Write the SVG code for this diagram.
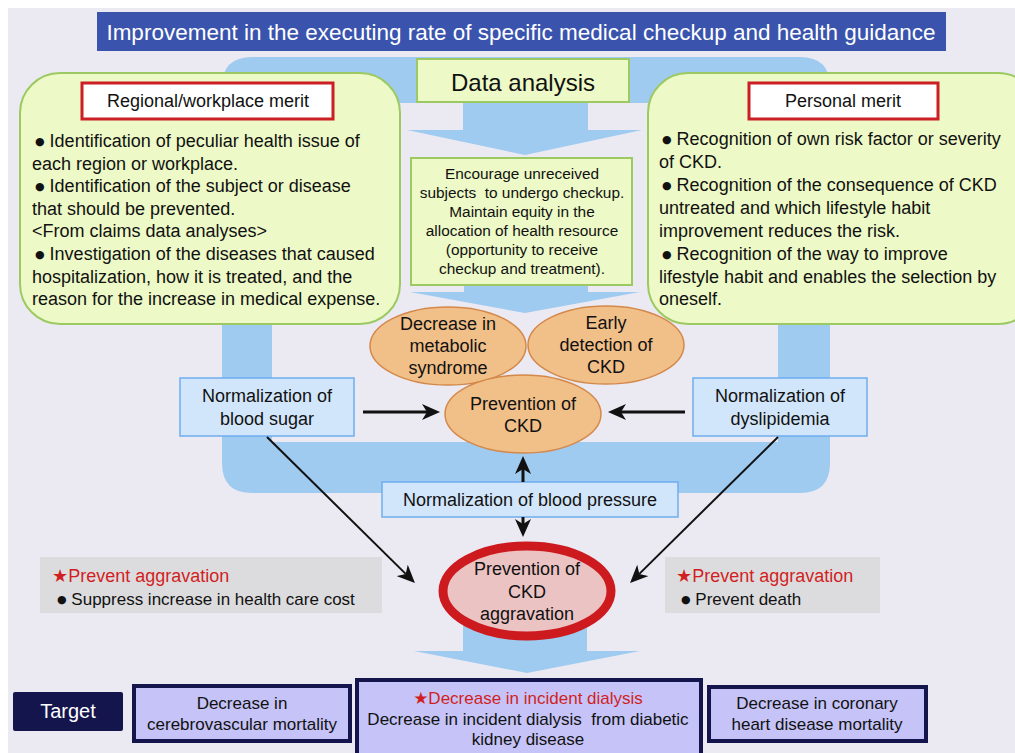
<svg xmlns="http://www.w3.org/2000/svg" width="1015" height="753" viewBox="0 0 1015 753">
  <defs>
    <style>
      text { font-family: "Liberation Sans", Arial, "DejaVu Sans", sans-serif; fill: #111; }
      .flow { fill: #9fcbf0; }
      .merit { fill: #edf9c6; stroke: #9cc962; stroke-width: 2; }
      .hdr { fill: #ffffff; stroke: #cc1f24; stroke-width: 3; }
      .oval { fill: #f1bf88; stroke: #d4884a; stroke-width: 1.5; }
      .norm { fill: #d2e6fb; stroke: #6fadee; stroke-width: 1.5; }
      .note { fill: #dcdcde; }
      .goal { fill: #c5c3f7; stroke: #15154d; stroke-width: 4; }
      .body { font-size: 18px; }
      .mid { font-size: 18px; text-anchor: middle; }
      .small { font-size: 15.4px; text-anchor: middle; }
      .red { fill: #d11f1f; }
      .dot { font-family: "DejaVu Sans", sans-serif; font-size: 11px; baseline-shift: 2px; }
      .arr { stroke: #111; fill: none; }
    </style>
    <marker id="head" markerUnits="userSpaceOnUse" markerWidth="18" markerHeight="16" refX="5" refY="8" orient="auto">
      <path d="M0,0 L18,8 L0,16 L5,8 z" fill="#111"/>
    </marker>
  </defs>

  <!-- page background -->
  <rect x="8" y="8" width="1007" height="745" fill="#ebeaf3"/>

  <!-- blue flow loop and downward arrows -->
  <g id="flow">
    <path class="flow" fill-rule="evenodd" d="M252,57 H800 Q830,57 830,87 V463 Q830,493 800,493 H252 Q222,493 222,463 V87 Q222,57 252,57 Z M272,103 V442 H778 V103 Z"/>
    <path class="flow" d="M463,100 H588 V130 H642 L525,155 L407,130 H463 Z"/>
    <path class="flow" d="M464,280 H588 V292 H640 L525,313 L410,292 H464 Z"/>
    <path class="flow" d="M463,620 H587 V651 H640 L527,673 L414,651 H463 Z"/>
  </g>

  <!-- title bar -->
  <g id="title">
    <rect x="97" y="12" width="849" height="39" fill="#3a54ae"/>
    <text x="521" y="40" font-size="22.5" text-anchor="middle" style="fill:#ffffff">Improvement in the executing rate of specific medical checkup and health guidance</text>
  </g>

  <g id="data-analysis">
    <rect class="merit" x="417" y="59" width="212" height="43"/>
    <text x="523" y="91" font-size="24" text-anchor="middle">Data analysis</text>
  </g>

  <g id="regional-merit">
    <rect class="merit" x="20" y="73" width="380" height="251" rx="40"/>
    <rect class="hdr" x="82" y="83" width="251" height="36"/>
    <text class="mid" x="208" y="107">Regional/workplace merit</text>
    <text class="body">
      <tspan x="35" y="147"><tspan class="dot">●</tspan> Identification of peculiar health issue of</tspan>
      <tspan x="32" y="169.6">each region or workplace.</tspan>
      <tspan x="35" y="192.2"><tspan class="dot">●</tspan> Identification of the subject or disease</tspan>
      <tspan x="32" y="214.8">that should be prevented.</tspan>
      <tspan x="32" y="237.4">&lt;From claims data analyses&gt;</tspan>
      <tspan x="35" y="260"><tspan class="dot">●</tspan> Investigation of the diseases that caused</tspan>
      <tspan x="32" y="282.6">hospitalization, how it is treated, and the</tspan>
      <tspan x="32" y="305.2">reason for the increase in medical expense.</tspan>
    </text>
  </g>

  <g id="personal-merit">
    <rect class="merit" x="648" y="73" width="390" height="251" rx="40"/>
    <rect class="hdr" x="749" y="83" width="189" height="36"/>
    <text class="mid" x="843" y="107">Personal merit</text>
    <text class="body">
      <tspan x="662" y="145"><tspan class="dot">●</tspan> Recognition of own risk factor or severity</tspan>
      <tspan x="659" y="168">of CKD.</tspan>
      <tspan x="662" y="191"><tspan class="dot">●</tspan> Recognition of the consequence of CKD</tspan>
      <tspan x="659" y="213.5">untreated and which lifestyle habit</tspan>
      <tspan x="659" y="236.5">improvement reduces the risk.</tspan>
      <tspan x="662" y="259.5"><tspan class="dot">●</tspan> Recognition of the way to improve</tspan>
      <tspan x="659" y="282.5">lifestyle habit and enables the selection by</tspan>
      <tspan x="659" y="305">oneself.</tspan>
    </text>
  </g>

  <g id="encourage">
    <rect class="merit" x="411" y="158" width="221" height="127"/>
    <text class="small" x="522" y="179">Encourage unreceived</text>
    <text class="small" x="522" y="198">subjects&#160; to undergo checkup.</text>
    <text class="small" x="522" y="217">Maintain equity in the</text>
    <text class="small" x="522" y="236">allocation of health resource</text>
    <text class="small" x="522" y="255">(opportunity to receive</text>
    <text class="small" x="522" y="274">checkup and treatment).</text>
  </g>

  <g id="metabolic">
    <ellipse class="oval" cx="448" cy="346" rx="78" ry="39"/>
    <text class="mid" x="448" y="330">Decrease in</text>
    <text class="mid" x="448" y="352">metabolic</text>
    <text class="mid" x="448" y="374">syndrome</text>
  </g>

  <g id="early-detection">
    <ellipse class="oval" cx="606" cy="345" rx="78" ry="39"/>
    <text class="mid" x="606" y="329">Early</text>
    <text class="mid" x="606" y="351">detection of</text>
    <text class="mid" x="606" y="373">CKD</text>
  </g>

  <g id="prevention">
    <ellipse class="oval" cx="523" cy="414" rx="78" ry="39"/>
    <text class="mid" x="523" y="410">Prevention of</text>
    <text class="mid" x="523" y="432">CKD</text>
  </g>

  <g id="blood-sugar">
    <rect class="norm" x="180" y="378" width="174" height="58"/>
    <text class="mid" x="267" y="402">Normalization of</text>
    <text class="mid" x="267" y="425">blood sugar</text>
  </g>

  <g id="dyslipidemia">
    <rect class="norm" x="693" y="378" width="174" height="58"/>
    <text class="mid" x="780" y="402">Normalization of</text>
    <text class="mid" x="780" y="425">dyslipidemia</text>
  </g>

  <g id="blood-pressure">
    <rect class="norm" x="382" y="482" width="296" height="35"/>
    <text class="mid" x="530" y="506">Normalization of blood pressure</text>
  </g>

  <g id="aggravation">
    <ellipse cx="527" cy="591" rx="84" ry="45" fill="#ecc3c3" stroke="#cc1a1f" stroke-width="9"/>
    <text class="mid" x="527" y="575">Prevention of</text>
    <text class="mid" x="527" y="598">CKD</text>
    <text class="mid" x="527" y="620">aggravation</text>
  </g>

  <g id="note-cost">
    <rect class="note" x="40" y="557" width="342" height="56"/>
    <text class="body red" x="52" y="582">★Prevent aggravation</text>
    <text x="57" y="605" font-size="17"><tspan class="dot">●</tspan> Suppress increase in health care cost</text>
  </g>

  <g id="note-death">
    <rect class="note" x="665" y="557" width="215" height="56"/>
    <text class="body red" x="676" y="582">★Prevent aggravation</text>
    <text x="681" y="605" font-size="17"><tspan class="dot">●</tspan> Prevent death</text>
  </g>

  <!-- connectors -->
  <g id="connectors">
    <line class="arr" x1="363" y1="412" x2="427" y2="412" stroke-width="3" marker-end="url(#head)"/>
    <line class="arr" x1="685" y1="412" x2="621" y2="412" stroke-width="3" marker-end="url(#head)"/>
    <line class="arr" x1="523" y1="482" x2="523" y2="469" stroke-width="3" marker-end="url(#head)"/>
    <line class="arr" x1="523" y1="517" x2="523" y2="524" stroke-width="3" marker-end="url(#head)"/>
    <line class="arr" x1="267" y1="437" x2="405.7" y2="573.9" stroke-width="2" marker-end="url(#head)"/>
    <line class="arr" x1="778" y1="437" x2="639.3" y2="573.9" stroke-width="2" marker-end="url(#head)"/>
  </g>

  <g id="target">
    <rect x="13" y="692" width="110" height="39" rx="2" fill="#15154d"/>
    <text x="68" y="718" font-size="20" text-anchor="middle" style="fill:#ffffff">Target</text>
  </g>

  <g id="cerebrovascular">
    <rect class="goal" x="134" y="686" width="216" height="55"/>
    <text x="242" y="709" font-size="17" text-anchor="middle">Decrease in</text>
    <text x="242" y="730" font-size="17" text-anchor="middle">cerebrovascular mortality</text>
  </g>

  <g id="dialysis">
    <rect class="goal" x="357" y="680" width="344" height="80"/>
    <text class="red" x="528" y="704" font-size="17" text-anchor="middle">★Decrease in incident dialysis</text>
    <text x="528" y="725" font-size="17" text-anchor="middle">Decrease in incident dialysis&#160; from diabetic</text>
    <text x="528" y="745" font-size="17" text-anchor="middle">kidney disease</text>
  </g>

  <g id="coronary">
    <rect class="goal" x="709" y="687" width="217" height="54"/>
    <text x="817" y="709" font-size="17" text-anchor="middle">Decrease in coronary</text>
    <text x="817" y="730" font-size="17" text-anchor="middle">heart disease mortality</text>
  </g>
</svg>
